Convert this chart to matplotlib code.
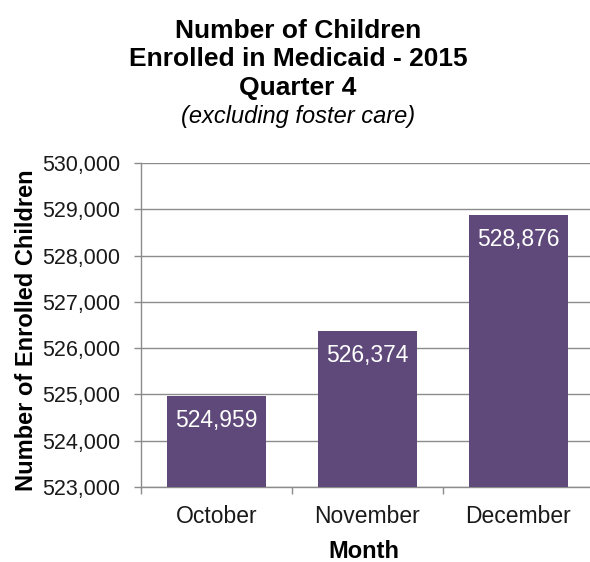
import numpy as np
import matplotlib.pyplot as plt
from matplotlib.ticker import FuncFormatter, FixedLocator

# data
months = ["October", "November", "December"]
enrolled = [524959, 526374, 528876]
y_ticks = [523000, 524000, 525000, 526000, 527000, 528000, 529000, 530000]

plt.rcParams['font.family'] = ['Liberation Sans', 'DejaVu Sans']

bar_color = '#5F497A'
grid_color = '#8C8C8C'

fig = plt.figure(figsize=(5.9, 5.62), dpi=100)
# axes spans px 141..594 horizontally, 163..487 vertically
ax = fig.add_axes([141/590, 1 - 487/562, (594 - 141)/590, (487 - 163)/562])

x = np.arange(len(months))
bars = ax.bar(x, enrolled, width=0.65, color=bar_color, zorder=3)

ax.set_xlim(-0.5, 2.5)
ax.set_ylim(y_ticks[0], y_ticks[-1])
ax.set_yticks(y_ticks)
ax.yaxis.set_major_formatter(FuncFormatter(lambda v, p: f"{int(v):,}"))
ax.grid(axis='y', color=grid_color, linewidth=1, zorder=0)

ax.set_xticks(x)
ax.set_xticklabels(months, fontsize=16.5, color='#1a1a1a')
ax.xaxis.set_minor_locator(FixedLocator([-0.5, 0.5, 1.5, 2.5]))
ax.tick_params(axis='x', which='major', length=0, pad=13)
ax.tick_params(axis='x', which='minor', length=5, width=1, color=grid_color, direction='out')
ax.tick_params(axis='y', length=5, width=1, color=grid_color, pad=10, labelsize=15.5,
               labelcolor='#1a1a1a')

for s in ['top', 'right']:
    ax.spines[s].set_visible(False)
for s in ['left', 'bottom']:
    ax.spines[s].set_color(grid_color)
    ax.spines[s].set_linewidth(1)

# value labels inside bars
for b, v in zip(bars, enrolled):
    ax.annotate(f"{v:,}", (b.get_x() + b.get_width()/2, v), xytext=(0, -17.5),
                textcoords='offset points', ha='center', va='center',
                color='white', fontsize=16.5, zorder=4)

# titles
cx = 298/590
fig.text(cx, 1 - 38/562, "Number of Children", ha='center', va='baseline',
         fontsize=19, fontweight='bold')
fig.text(cx, 1 - 66/562, "Enrolled in Medicaid - 2015", ha='center', va='baseline',
         fontsize=19, fontweight='bold')
fig.text(cx, 1 - 95/562, "Quarter 4", ha='center', va='baseline',
         fontsize=19, fontweight='bold')
fig.text(cx, 1 - 123/562, "(excluding foster care)", ha='center', va='baseline',
         fontsize=17, style='italic')

fig.text(364/590, 1 - 558/562, "Month", ha='center', va='baseline',
         fontsize=17, fontweight='bold')
fig.text(33/590, 1 - 330/562, "Number of Enrolled Children", ha='center', va='baseline',
         rotation=90, rotation_mode='anchor', fontsize=17, fontweight='bold')

fig.savefig("out.png", dpi=100)
